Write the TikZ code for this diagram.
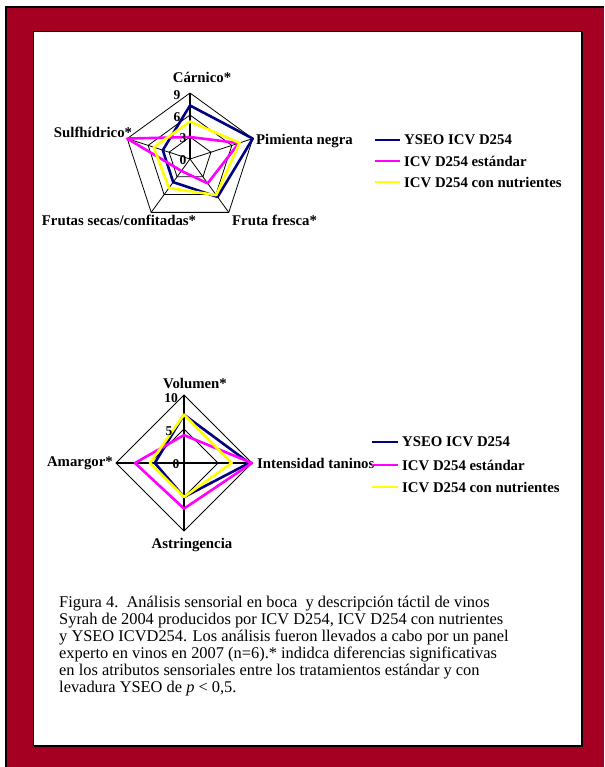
\documentclass[tikz,border=0pt]{standalone}
\usepackage{fontspec}
\setmainfont{Liberation Serif}
\usetikzlibrary{positioning}
\definecolor{marco}{RGB}{165,0,33}
\definecolor{azul}{RGB}{0,0,128}
\definecolor{rosa}{RGB}{255,0,255}
\definecolor{amarillo}{RGB}{255,255,0}

\begin{document}
\begin{tikzpicture}[x=1pt,y=-1pt]
  \tikzset{rejilla/.style = {draw=black, line width=0.8pt}}
  \tikzset{eje/.style = {draw=black, line width=1.8pt}}
  \tikzset{yseo/.style = {draw=azul, line width=2.6pt, line join=round}}
  \tikzset{estandar/.style = {draw=rosa, line width=2.6pt, line join=round}}
  \tikzset{nutri/.style = {draw=amarillo, line width=2.6pt, line join=round}}
  \tikzset{etiq/.style = {font=\fontsize{14.8}{16}\selectfont\bfseries, inner sep=0pt}}
  \tikzset{num/.style = {font=\fontsize{13.5}{15}\selectfont\bfseries, inner sep=0pt}}
  \tikzset{leyenda/.style = {etiq, anchor=west}}

  % marco
  \useasboundingbox (0,0) rectangle (604,767);
  \fill[marco] (6,7) rectangle (604,767);
  \draw[line width=1.2pt] (6,767) -- (6,7) -- (604,7);
  \fill[black] (34,32) rectangle (583,747);
  \filldraw[fill=white, draw=black, line width=0.8pt] (33,31) rectangle (581.5,745.5);

  % aromas
  \begin{scope}[shift={(190,159)}]
    \coordinate (c1) at (0,0);
    \coordinate (car) at (90:66pt);
    \coordinate (pim) at (18:66pt);
    \coordinate (fre) at (-54:66pt);
    \coordinate (sec) at (-126:66pt);
    \coordinate (sul) at (162:66pt);
    \foreach \k in {22,44}
    \draw[rejilla] (90:\k pt) -- (18:\k pt) -- (-54:\k pt) -- (-126:\k pt) -- (162:\k pt) -- cycle;
    \draw[rejilla] (car) -- (pim) -- (fre) -- (sec) -- (sul) -- cycle;
    \foreach \to in {pim,fre,sec,sul}
    \path[rejilla](c1) edge (\to);
    \path[eje](c1) edge (car);
    \foreach \s/\a/\b/\c/\d/\e in {yseo/53.5/66/46.9/28.6/28.6, estandar/22/51.3/30.1/14.7/66, nutri/37.4/52.1/44.7/35.9/38.1}
    \draw[\s] (90:\a pt) -- (18:\b pt) -- (-54:\c pt) -- (-126:\d pt) -- (162:\e pt) -- cycle;
  \end{scope}

  \node[num] (n9) at (177,95) {9};
  \node[num] (n6) at (177,117) {6};
  \node[num] (n3) at (183,138) {3};
  \node[num] (n0) at (183,160) {0};

  \node[etiq] (tcar) at (202,77) {Cárnico*};
  \node[etiq] (tsul) at (93,132) {Sulfhídrico*};
  \node[etiq, anchor=west] (tpim) at (256,141) {Pimienta negra};
  \node[etiq] (tsec) at (119,220) {Frutas secas/confitadas*};
  \node[etiq, anchor=west] (tfre) at (232,220) {Fruta fresca*};

  \coordinate (la1) at (375,140); \coordinate (lb1) at (400,140);
  \coordinate (la2) at (375,161); \coordinate (lb2) at (400,161);
  \coordinate (la3) at (375,182); \coordinate (lb3) at (400,182);
  \draw[yseo] (la1) -- (lb1);
  \draw[estandar] (la2) -- (lb2);
  \draw[nutri] (la3) -- (lb3);
  \node[leyenda, right=4pt of lb1] (ley1) {YSEO ICV D254};
  \node[leyenda, right=4pt of lb2] (ley2) {ICV D254 estándar};
  \node[leyenda, right=4pt of lb3] (ley3) {ICV D254 con nutrientes};

  % boca
  \begin{scope}[shift={(184,463)}]
    \coordinate (c2) at (0,0);
    \coordinate (vol) at (90:68pt);
    \coordinate (int) at (0:68pt);
    \coordinate (ast) at (-90:68pt);
    \coordinate (ama) at (180:68pt);
    \draw[rejilla] (90:34pt) -- (0:34pt) -- (-90:34pt) -- (180:34pt) -- cycle;
    \draw[rejilla] (vol) -- (int) -- (ast) -- (ama) -- cycle;
    \foreach \to in {vol,int,ast,ama}
    \path[eje](c2) edge (\to);
    \foreach \s/\a/\b/\c/\d in {yseo/48.3/65.3/34/29.2, estandar/27.9/68/45.6/49, nutri/48.3/47.6/34/34}
    \draw[\s] (90:\a pt) -- (0:\b pt) -- (-90:\c pt) -- (180:\d pt) -- cycle;
  \end{scope}

  \node[num] (m10) at (171,398) {10};
  \node[num] (m5) at (169,431) {5};
  \node[num] (m0) at (176,464) {0};

  \node[etiq] (tvol) at (195,383) {Volumen*};
  \node[etiq, anchor=west] (tint) at (257,463) {Intensidad taninos};
  \node[etiq, anchor=east] (tama) at (113,463) {Amargor*};
  \node[etiq] (tast) at (192,545) {Astringencia};

  \coordinate (ma1) at (372,442); \coordinate (mb1) at (398,442);
  \coordinate (ma2) at (372,465); \coordinate (mb2) at (398,465);
  \coordinate (ma3) at (372,487); \coordinate (mb3) at (398,487);
  \draw[yseo] (ma1) -- (mb1);
  \draw[estandar] (ma2) -- (mb2);
  \draw[nutri] (ma3) -- (mb3);
  \node[leyenda, right=4pt of mb1] (mey1) {YSEO ICV D254};
  \node[leyenda, right=4pt of mb2] (mey2) {ICV D254 estándar};
  \node[leyenda, right=4pt of mb3] (mey3) {ICV D254 con nutrientes};

  % pie de figura
  \node[anchor=north west, inner sep=0pt, align=left,
        font=\fontsize{16.4}{17}\selectfont] (pie) at (59,596)
    {Figura 4.\ \ Análisis sensorial en boca\ \ y descripción táctil de vinos\\
     Syrah de 2004 producidos por ICV D254, ICV D254 con nutrientes\\
     y YSEO ICVD254. Los análisis fueron llevados a cabo por un panel\\
     experto en vinos en 2007 (n=6).* indidca diferencias significativas\\
     en los atributos sensoriales entre los tratamientos estándar y con\\
     levadura YSEO de \textit{p} < 0,5.};
\end{tikzpicture}
\end{document}
